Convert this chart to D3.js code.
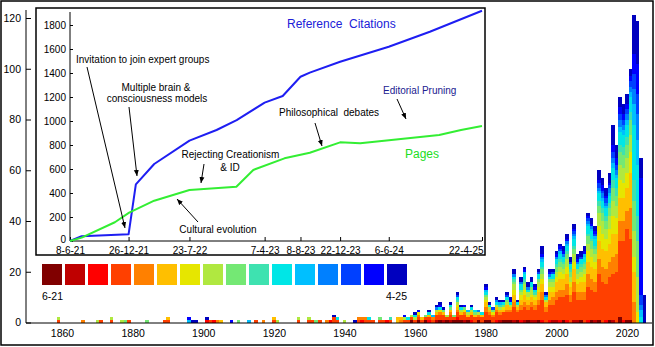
<!DOCTYPE html>
<html><head><meta charset="utf-8">
<script src="https://cdn.jsdelivr.net/npm/d3@7"></script>
<style>
body{margin:0;background:#fff;}
svg{display:block;}
text{white-space:pre;}
</style></head><body>
<svg id="chart" width="655" height="347"></svg>
<script>
// ---------------- DATA ----------------
const snapshotLabels = ["6-21", "4-25"];
const snapshotColors = ["#800000","#BF0000","#FF0000","#FF4000","#FF8000","#FFBF00","#E6E600","#B0E840",
                        "#74E874","#3EE2B0","#00E6E6","#00BFFF","#0080FF","#0040FF","#0000FF","#0000BF"];
const yearTicks = [1860,1880,1900,1920,1940,1960,1980,2000,2020];
const countTicks = [0,20,40,60,80,100,120];
const years = [1859,1866,1870,1871,1874,1877,1878,1879,1884,1889,1890,1896,1897,1898,1901,1902,1903,1904,1905,1908,
  1910,1913,1915,1917,1920,1921,1927,1930,1931,1932,1933,1935,1936,1937,1938,1940,1943,1944,1945,1946,1947,1948,1950,
  1951,1952,1953,1955,1956,1957,1958,1959,1960,1961,1962,1963,1964,1965,1966,1967,1968,1969,1970,1971,1972,1973,1974,
  1975,1976,1977,1978,1979,1980,1981,1982,1983,1984,1985,1986,1987,1988,1989,1990,1991,1992,1993,1994,1995,1996,1997,
  1998,1999,2000,2001,2002,2003,2004,2005,2006,2007,2008,2009,2010,2011,2012,2013,2014,2015,2016,2017,2018,2019,2020,
  2021,2022,2023,2024,2025];
// citations per publication year, split by snapshot (6-21 ... 4-25)
const counts = [
 [0,0,0,1,0,0,0,1,0,0,0,0,0,0,0,0],[0,0,0,0,1,0,0,0,0,0,0,0,0,0,0,0],[0,0,0,0,0,0,0,1,0,0,0,0,0,0,0,0],
 [0,0,0,1,0,0,0,0,0,0,0,0,0,0,0,0],[0,0,0,1,0,0,0,1,0,0,0,0,0,0,0,0],[0,0,0,0,0,0,0,1,0,0,0,0,0,0,0,0],
 [0,0,0,0,0,0,0,0,1,0,0,0,0,0,0,0],[0,0,0,1,0,0,0,0,0,0,0,0,0,0,0,0],[0,0,0,0,0,0,0,0,1,0,0,0,0,0,0,0],
 [0,0,0,1,0,0,0,0,0,0,0,0,0,0,0,0],[0,0,0,1,0,1,0,0,0,0,0,0,0,0,0,0],[0,0,0,0,0,0,0,0,0,0,0,1,0,0,1,0],
 [0,0,0,0,0,0,0,0,0,0,0,0,0,0,0,1],[0,0,0,0,0,0,0,0,0,0,0,0,0,0,0,1],[0,0,1,0,0,0,0,0,0,0,0,0,0,0,0,1],
 [0,0,0,1,0,0,0,0,0,0,0,0,0,0,0,0],[0,0,1,0,0,0,0,0,0,0,0,0,0,0,0,0],[0,0,0,0,1,0,0,0,0,0,0,0,0,0,0,0],
 [0,0,0,0,0,1,0,0,0,0,0,0,0,0,0,0],[0,0,0,0,0,0,0,0,0,0,0,0,0,0,1,0],[0,0,0,0,0,0,0,0,1,0,0,0,0,0,0,0],
 [0,0,0,0,0,0,0,0,0,0,0,1,0,0,0,0],[0,0,0,1,0,0,0,0,0,0,0,0,0,0,0,0],[0,0,0,0,1,0,0,0,0,0,0,0,0,0,0,0],
 [0,0,0,1,0,1,0,0,0,0,0,0,0,0,0,0],[0,0,0,0,0,0,0,1,0,0,0,0,0,0,0,0],[0,0,0,1,0,0,0,1,0,0,0,0,0,0,0,0],
 [0,0,0,1,0,0,0,1,0,0,0,0,0,0,0,0],[0,0,0,1,0,0,0,0,0,0,0,0,0,0,0,0],[0,0,0,0,0,0,0,0,1,0,0,0,0,0,0,0],
 [0,0,0,1,0,0,0,0,0,0,0,0,0,0,0,0],[0,0,0,0,1,0,0,0,0,0,0,0,0,0,0,0],[0,0,1,0,0,0,0,0,0,0,0,0,0,0,0,0],
 [0,0,0,2,0,0,0,0,0,0,0,0,0,0,0,1],[0,0,0,1,0,0,0,0,0,0,1,0,0,0,0,0],[0,0,0,0,0,0,0,1,0,0,0,0,0,0,0,0],
 [0,0,0,0,0,0,0,0,0,0,0,0,0,0,0,1],[0,0,0,1,1,0,0,0,0,0,0,0,0,0,0,0],[0,0,1,0,1,0,0,0,0,0,0,0,0,0,0,0],
 [0,0,0,1,1,0,0,0,0,0,0,0,0,0,0,0],[0,0,0,1,0,0,0,0,0,0,1,0,0,0,0,0],[0,0,0,1,0,0,0,0,0,0,0,0,0,0,0,0],
 [0,0,0,1,0,0,0,0,1,0,0,0,0,0,0,0],[0,0,0,1,0,0,0,0,0,0,0,0,0,0,0,0],[0,0,1,0,0,0,0,0,0,0,0,0,0,0,0,0],
 [0,0,0,1,0,0,0,0,0,1,0,0,0,0,0,0],[0,0,0,0,0,2,0,0,0,0,0,0,0,0,0,0],[0,0,0,0,1,1,0,0,0,0,0,0,0,0,0,0],
 [0,0,0,1,0,0,0,1,0,0,0,0,0,0,1,0],[0,0,0,1,0,0,0,0,0,0,1,0,0,0,0,0],[1,0,0,1,0,0,0,1,0,0,0,0,0,0,0,0],
 [0,0,0,1,0,0,0,1,0,0,1,0,0,0,0,1],[1,0,0,1,1,0,1,0,0,0,0,0,0,0,1,0],[0,0,0,1,0,1,0,0,0,0,0,0,0,0,0,0],
 [1,0,0,1,0,0,0,0,1,0,0,0,0,0,0,0],[0,0,1,1,0,1,0,0,0,0,1,0,0,0,0,1],[0,0,0,1,1,0,0,0,0,0,0,1,0,0,0,0],
 [0,1,0,2,0,1,0,1,0,0,0,0,1,0,0,1],[1,0,0,2,1,0,1,0,0,0,1,0,0,0,1,1],[0,1,0,2,0,1,0,0,1,0,0,0,0,0,0,1],
 [1,0,0,1,0,0,0,1,0,0,0,0,0,0,0,0],[0,1,0,2,1,1,0,0,1,0,1,0,0,0,0,1],[1,0,0,1,0,0,0,0,1,0,0,0,0,0,0,0],
 [1,0,1,2,1,1,1,1,0,1,1,0,0,1,0,1],[1,0,0,2,0,1,0,1,0,0,1,0,0,0,0,1],[0,1,0,2,1,0,1,0,1,0,0,0,0,0,1,0],
 [1,0,0,1,0,1,0,1,0,0,0,1,0,0,0,0],[0,0,1,2,0,1,0,1,0,0,1,0,0,0,0,1],[0,0,0,2,0,1,0,0,1,0,1,0,0,0,0,0],
 [1,0,0,1,1,0,0,1,0,0,0,0,1,0,0,0],[0,0,0,2,0,1,0,0,0,0,1,0,0,0,0,0],[1,0,0,3,2,2,1,1,1,0,1,1,0,0,1,1],
 [1,0,0,2,1,1,0,1,0,0,1,0,0,0,0,1],[0,0,0,2,1,0,1,0,1,0,0,0,0,1,0,0],[0,0,1,3,1,1,0,1,0,0,1,0,1,0,0,1],
 [0,1,0,2,1,1,0,1,0,1,0,1,0,0,0,1],[1,0,0,3,0,1,1,0,1,0,1,0,0,0,0,1],[1,0,0,3,1,2,0,1,1,0,1,0,0,1,0,1],
 [1,0,0,3,1,1,0,1,0,0,1,0,0,0,1,1],[0,1,0,5,2,3,2,2,1,1,1,0,1,0,0,2],[1,0,0,3,1,1,0,1,0,0,1,0,0,0,0,1],
 [0,0,1,4,2,2,2,1,1,0,2,0,1,0,0,2],[0,1,0,5,2,3,2,2,1,1,2,1,0,0,1,1],[1,0,0,4,2,2,1,2,0,0,1,0,1,0,0,2],
 [0,1,0,5,2,2,1,2,1,0,2,0,0,0,0,2],[0,1,0,4,2,2,1,1,0,1,1,0,0,0,1,1],[1,0,0,6,2,3,2,2,1,0,2,0,0,1,0,1],
 [0,0,1,8,3,3,2,2,2,1,2,1,1,0,1,3],[0,0,0,4,2,2,0,1,0,0,1,0,1,0,0,1],[0,0,1,6,2,3,2,2,1,0,1,0,1,0,1,1],
 [0,1,0,6,3,2,2,2,1,0,2,0,0,1,0,1],[0,1,0,8,3,4,2,2,2,1,2,0,1,0,1,1],[0,0,1,9,3,4,3,2,2,1,2,1,0,1,1,1],
 [1,0,0,9,3,4,2,2,2,1,2,0,1,0,1,2],[0,0,1,10,4,4,3,3,2,1,2,1,1,0,1,2],[0,0,0,8,3,3,2,2,2,1,2,0,0,1,0,2],
 [0,1,0,11,4,5,3,3,2,1,3,1,1,1,1,2],[0,1,0,8,3,3,2,2,2,0,2,0,1,0,1,2],[1,0,0,8,3,4,2,2,2,1,2,0,0,1,0,2],
 [0,0,0,9,3,4,3,2,2,1,2,1,0,0,1,2],[0,0,1,13,5,5,4,3,3,1,3,1,1,1,1,1],[1,0,0,12,4,5,4,3,3,1,3,1,1,0,1,2],
 [0,1,0,11,4,5,3,3,2,1,3,1,0,1,1,2],[1,0,0,18,6,7,6,5,3,2,3,1,1,2,1,4],[0,0,0,16,6,7,6,5,3,2,3,1,2,1,2,3],
 [0,0,1,14,6,7,5,4,3,2,3,1,1,2,1,3],[1,0,0,17,6,7,6,5,3,2,3,1,2,1,1,4],[0,1,0,18,7,9,7,6,5,3,5,2,2,2,3,8],
 [0,0,0,20,7,8,6,5,4,3,4,1,2,2,3,5],[2,0,0,30,8,9,7,6,5,3,5,2,3,2,3,4],[0,0,1,31,8,9,6,6,5,3,5,2,2,2,2,4],
 [1,0,0,36,7,9,6,6,5,3,5,2,2,2,2,4],[1,0,0,32,12,14,8,7,6,3,6,2,2,2,2,3],[0,0,0,0,8,12,6,10,12,8,22,8,6,6,8,15],
 [0,0,0,0,0,0,4,14,14,10,20,10,10,8,12,17],[0,0,0,0,0,0,0,0,0,0,2,3,2,4,46,8],[0,0,0,0,0,0,0,0,0,0,0,0,0,0,0,11]
];
// inset: growth of the article
const insetTickDates = ["2021-06-08","2021-12-26","2022-07-23","2023-04-07","2023-08-08","2023-12-22","2024-06-06","2025-04-22"];
const insetTickLabels = ["8-6-21","26-12-21","23-7-22","7-4-23","8-8-23","22-12-23","6-6-24","22-4-25"];
const insetValueTicks = [0,200,400,600,800,1000,1200,1400,1600,1800];
const citationDates = ["2021-06-08","2021-07-18","2021-12-26","2022-01-20","2022-03-24","2022-07-23","2022-10-24","2023-01-01",
  "2023-04-07","2023-06-08","2023-08-08","2023-09-09","2023-12-22","2024-06-06","2024-10-25","2025-04-22"];
const citationValues = [0,40,56,472,642,836,925,1008,1153,1208,1369,1403,1494,1619,1744,1919];
const pageDates = ["2021-06-08","2021-07-18","2021-11-09","2021-12-28","2022-03-24","2022-07-23","2022-12-31","2023-02-27",
  "2023-06-14","2023-09-09","2023-12-22","2024-02-29","2024-11-26","2025-02-09","2025-04-22"];
const pageValues = [0,28,156,236,336,425,452,592,689,736,822,814,883,925,958];

// ---------------- DRAW ----------------
const FONT = "'Liberation Sans', Arial, Helvetica, sans-serif";
const svg = d3.select("#chart").attr("font-family", FONT);
const parse = d3.timeParse("%Y-%m-%d");

svg.append("rect").attr("x",1).attr("y",1).attr("width",652).attr("height",344)
  .attr("fill","#fff").attr("stroke","#000").attr("stroke-width",1.5);

const x = d3.scaleLinear().domain([1860,2020]).range([62,627]);
const y = d3.scaleLinear().domain([0,120]).range([322.5,18]);

const keys = d3.range(16);
const rows = years.map((yr,i)=>{ const o={year:yr}; keys.forEach(k=>o[k]=counts[i][k]); return o; });
const series = d3.stack().keys(keys)(rows);

const barG = svg.append("g").attr("shape-rendering","crispEdges");
series.forEach((s,k)=>{
  barG.selectAll(null).data(s.filter(d=>d[1]>d[0])).join("rect")
    .attr("x", d=>Math.round(x(d.data.year-0.5)))
    .attr("width", d=>Math.round(x(d.data.year+0.5))-Math.round(x(d.data.year-0.5)))
    .attr("y", d=>Math.round(y(d[1])))
    .attr("height", d=>Math.round(y(d[0]))-Math.round(y(d[1])))
    .attr("fill", snapshotColors[k]);
});

function styleAxis(g, size){
  g.attr("font-family", FONT).attr("font-size", size);
  g.select(".domain").remove();
  g.selectAll("line").attr("stroke","#000");
  g.selectAll("text").attr("fill","#000");
}

// main axes
const yAx = svg.append("g").attr("transform","translate(26,0)")
  .call(d3.axisLeft(y).tickValues(countTicks).tickSizeInner(-5).tickSizeOuter(0).tickPadding(5));
styleAxis(yAx, 10.5);
svg.append("line").attr("x1",26).attr("x2",26).attr("y1",10).attr("y2",323).attr("stroke","#000");
const xAx = svg.append("g").attr("transform","translate(0,323)")
  .call(d3.axisBottom(x).tickValues(yearTicks).tickFormat(d3.format("d")).tickSize(0).tickPadding(7));
styleAxis(xAx, 10.5);
svg.append("line").attr("x1",26).attr("x2",652).attr("y1",323).attr("y2",323).attr("stroke","#000");

// legend
const lg = svg.append("g");
lg.selectAll("rect").data(snapshotColors).join("rect")
  .attr("x",(d,i)=>42+i*23).attr("y",264).attr("width",20).attr("height",21).attr("fill",d=>d);
lg.append("text").attr("x",42).attr("y",300).attr("font-size",10.5).text(snapshotLabels[0]);
lg.append("text").attr("x",407).attr("y",300).attr("font-size",10.5).attr("text-anchor","end").text(snapshotLabels[1]);

// inset
svg.append("rect").attr("x",36).attr("y",8).attr("width",449).attr("height",247)
  .attr("fill","#fff").attr("stroke","#000").attr("stroke-width",1.5);
const ix = d3.scaleTime().domain([parse("2021-06-08"), parse("2025-04-22")]).range([70,482]);
const iy = d3.scaleLinear().domain([0,1800]).range([241,25]);

const iyAx = svg.append("g").attr("transform","translate(70,0)")
  .call(d3.axisLeft(iy).tickValues(insetValueTicks).tickFormat(d3.format("d")).tickSizeInner(-3).tickSizeOuter(0).tickPadding(4));
styleAxis(iyAx, 10);
iyAx.selectAll("text").filter(d=>d===0).attr("dy","0.1em");
svg.append("line").attr("x1",70).attr("x2",70).attr("y1",12).attr("y2",241).attr("stroke","#000");
const ixAx = svg.append("g").attr("transform","translate(0,241)")
  .call(d3.axisBottom(ix).tickValues(insetTickDates.map(parse)).tickFormat((d,i)=>insetTickLabels[i])
    .tickSizeInner(-4).tickSizeOuter(0).tickPadding(5.5));
styleAxis(ixAx, 10);
ixAx.selectAll("text").filter((d,i)=>i===insetTickLabels.length-1).attr("text-anchor","end").attr("dx",1);
svg.append("line").attr("x1",70).attr("x2",482).attr("y1",241).attr("y2",241).attr("stroke","#000");

const line = d3.line().x(d=>ix(d[0])).y(d=>iy(d[1]));
svg.append("path").datum(citationDates.map((d,i)=>[parse(d),citationValues[i]]))
  .attr("d",line).attr("fill","none").attr("stroke","#1E1EF2").attr("stroke-width",2).attr("stroke-linejoin","round");
svg.append("path").datum(pageDates.map((d,i)=>[parse(d),pageValues[i]]))
  .attr("d",line).attr("fill","none").attr("stroke","#33EE33").attr("stroke-width",2).attr("stroke-linejoin","round");

// annotations
svg.append("defs").append("marker").attr("id","ah").attr("markerUnits","userSpaceOnUse")
  .attr("markerWidth",7).attr("markerHeight",6).attr("refX",6).attr("refY",3).attr("orient","auto")
  .append("path").attr("d","M0,0.5 L6,3 L0,5.5 Z").attr("fill","#000");
const arrows = [[87,67,125,228],[129,107,137,176],[204,164,201,183],[198,222,177,199],[315,123,322,146],[397,99,406,119]];
svg.selectAll(null).data(arrows).join("line")
  .attr("x1",d=>d[0]).attr("y1",d=>d[1]).attr("x2",d=>d[2]).attr("y2",d=>d[3])
  .attr("stroke","#000").attr("stroke-width",1).attr("marker-end","url(#ah)");

const notes = [
  {t:"Invitation to join expert groups", x:76, y:62.5, a:"start"},
  {t:"Multiple brain &", x:156, y:90.5, a:"middle"},
  {t:"consciousness models", x:157, y:102, a:"middle"},
  {t:"Rejecting Creationism", x:230.5, y:158, a:"middle"},
  {t:"& ID", x:230, y:170.5, a:"middle"},
  {t:"Cultural evolution", x:218, y:233, a:"middle"},
  {t:"Philosophical  debates", x:279, y:116, a:"start"}
];
svg.selectAll(null).data(notes).join("text")
  .attr("x",d=>d.x).attr("y",d=>d.y).attr("text-anchor",d=>d.a).attr("font-size",10).attr("fill","#000").text(d=>d.t);
svg.append("text").attr("x",383).attr("y",94).attr("font-size",10).attr("fill","#202090").text("Editorial Pruning");
svg.append("text").attr("x",287).attr("y",28).attr("font-size",12).attr("fill","#2020D8").text("Reference  Citations");
svg.append("text").attr("x",405).attr("y",158).attr("font-size",12).attr("fill","#22DD22").text("Pages");
</script>
</body></html>
